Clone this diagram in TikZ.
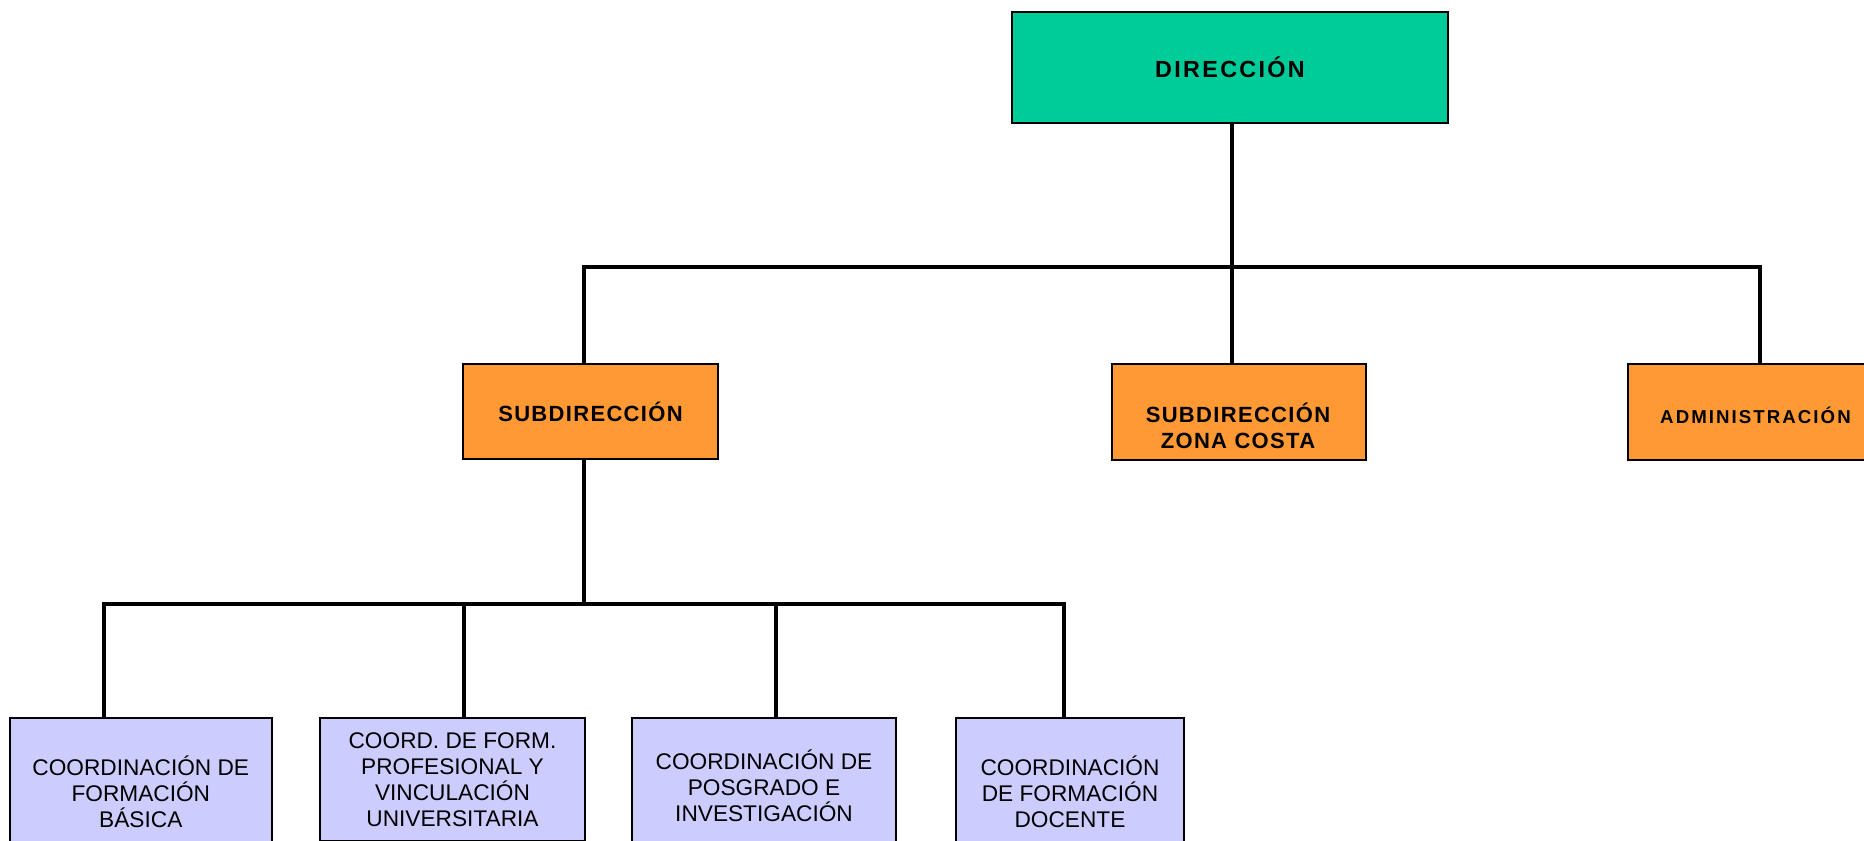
\documentclass[tikz,border=0pt]{standalone}
\usepackage{fontspec}
\setmainfont{Liberation Sans}
\newfontfamily\spacedA[LetterSpace=10]{Liberation Sans}
\newfontfamily\spacedB[LetterSpace=6]{Liberation Sans}
\newfontfamily\spacedC[LetterSpace=11]{Liberation Sans}
\definecolor{dirgreen}{HTML}{00CC99}
\definecolor{suborange}{HTML}{FF9933}
\definecolor{coordlav}{HTML}{CCCCFF}
\tikzset{
  box/.style={draw=black, line width=1.5pt, inner sep=0pt, align=center, text=black},
  dirbox/.style={box, fill=dirgreen, font=\spacedA\bfseries\fontsize{17.5}{19.5}\selectfont},
  subbox/.style={box, fill=suborange, font=\spacedB\bfseries\fontsize{16.5}{19.5}\selectfont},
  subtext/.style={inner sep=0pt, align=center, text=black, font=\spacedB\bfseries\fontsize{16.5}{19.5}\selectfont},
  admtext/.style={inner sep=0pt, align=center, text=black, font=\spacedC\bfseries\fontsize{14}{19.5}\selectfont},
  coordbox/.style={box, fill=coordlav, font=\fontsize{17}{19.5}\selectfont},
  conn/.style={draw=black, line width=2.6pt}
}
\begin{document}
\begin{tikzpicture}[x=0.75pt,y=-0.75pt]
\useasboundingbox (0,0) rectangle (1864,840);
\clip (0,0) rectangle (1864,840);
\fill[white] (0,0) rectangle (1864,840);
\coordinate (busL) at (584,267);
\coordinate (busR) at (1760,267);
\coordinate (bus2L) at (104,604);
\coordinate (bus2a) at (464,604);
\coordinate (bus2b) at (776,604);
\coordinate (bus2R) at (1064,604);
\coordinate (dirx) at (1232,123);
\coordinate (subx) at (584,459);

\node[dirbox, minimum width=436*0.75pt, minimum height=111*0.75pt] (dir) at (1230,67.5) {DIRECCIÓN};
\node[subbox, minimum width=255*0.75pt, minimum height=95*0.75pt] (sub) at (590.5,411.5) {SUBDIRECCIÓN};
\node[subbox, minimum width=254*0.75pt, minimum height=96*0.75pt] (zc) at (1239,412) {};
\node[subtext] (zct) at (1238,425.5) {SUBDIRECCIÓN\\ZONA COSTA};
\node[subbox, minimum width=255*0.75pt, minimum height=96*0.75pt] (adm) at (1755.5,412) {};
\node[admtext] (admt) at (1755.5,415) {ADMINISTRACIÓN};

\node[coordbox, minimum width=262*0.75pt, minimum height=148*0.75pt] (b1) at (140.8,792) {COORDINACIÓN DE\\FORMACIÓN\\BÁSICA};
\node[coordbox, minimum width=265*0.75pt, minimum height=123*0.75pt] (b2) at (452.5,779.5) {COORD. DE FORM.\\PROFESIONAL Y\\VINCULACIÓN\\UNIVERSITARIA};
\node[coordbox, minimum width=264*0.75pt, minimum height=136*0.75pt] (b3) at (764,786) {COORDINACIÓN DE\\POSGRADO E\\INVESTIGACIÓN};
\node[coordbox, minimum width=228*0.75pt, minimum height=148*0.75pt] (b4) at (1070,792) {COORDINACIÓN\\DE FORMACIÓN\\DOCENTE};

\draw[conn] (dir.south -| dirx) -- (zc.north -| dirx);
\draw[conn] (sub.north -| busL) -- (busL) -- (busR) -- (adm.north -| busR);
\draw[conn] (sub.south -| subx) -- (bus2a -| subx);
\draw[conn] (b1.north -| bus2L) -- (bus2L) -- (bus2R) -- (b4.north -| bus2R);
\draw[conn] (bus2a) -- (b2.north -| bus2a);
\draw[conn] (bus2b) -- (b3.north -| bus2b);
\end{tikzpicture}
\end{document}
